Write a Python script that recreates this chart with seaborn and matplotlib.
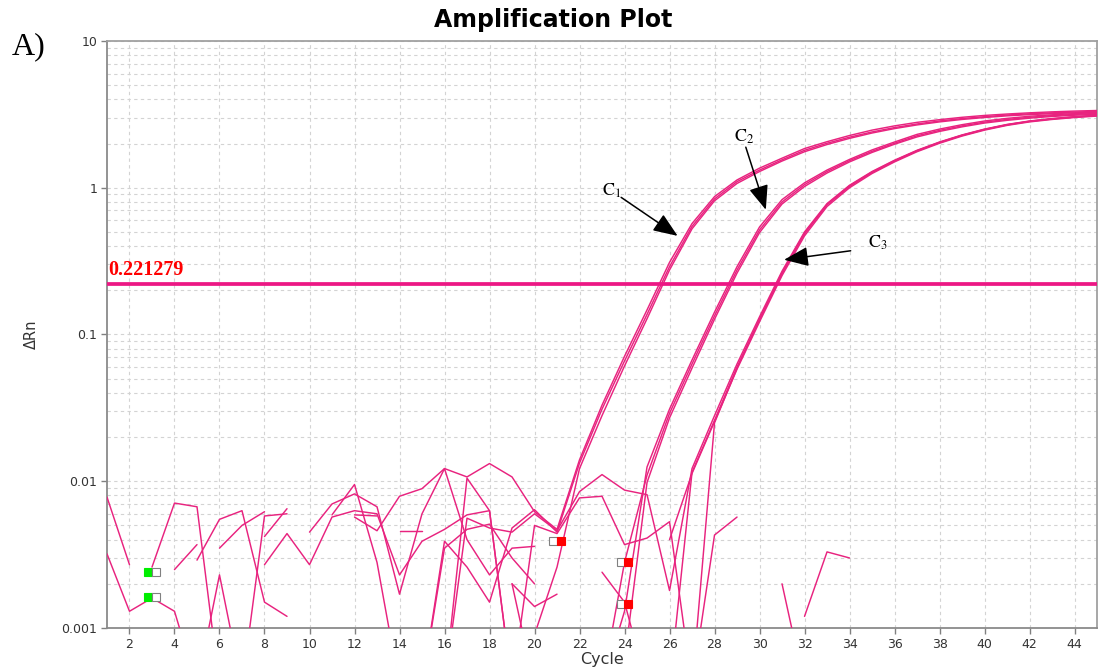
import numpy as np
import pandas as pd
import matplotlib
matplotlib.use("Agg")
import matplotlib.pyplot as plt
import seaborn as sns

N = np.nan
cycles = list(range(1, 46))

# ---- amplification curves (delta Rn per cycle, NaN = not drawn / nonpositive) ----
C1a = [0.0078, 0.0027, N, 0.0025, 0.0037, N, N, 0.0042, 0.0065, N,
       N, 0.0057, 0.0046, 0.0079, 0.0089, 0.0122, 0.0107, 0.0132, 0.0107, 0.0062,
       0.0047, 0.0140, 0.033, 0.071, 0.147, 0.31, 0.57, 0.87, 1.13, 1.36,
       1.59, 1.85, 2.06, 2.27, 2.47, 2.64, 2.79, 2.91, 3.02, 3.11,
       3.18, 3.24, 3.29, 3.33, 3.36]
C1b = [0.0032, 0.0013, 0.0016, 0.0013, 0.0004, 0.0023, 0.0004, N, N, N,
       0.0059, 0.0095, 0.0028, 0.0004, 0.0004, 0.0039, 0.0026, 0.0015, 0.0048, 0.0064,
       0.0045, 0.0133, 0.031, 0.066, 0.137, 0.29, 0.545, 0.84, 1.10, 1.32,
       1.55, 1.80, 2.01, 2.21, 2.40, 2.57, 2.72, 2.85, 2.96, 3.05,
       3.13, 3.19, 3.24, 3.28, 3.31]
C1c = [N, N, 0.0026, 0.0071, 0.0067, 0.0004, N, 0.0027, 0.0044, 0.0027,
       0.0057, 0.0063, 0.0060, 0.0023, 0.0039, 0.0047, 0.0059, 0.0063, 0.0004, 0.0009,
       0.0026, 0.0122, 0.028, 0.061, 0.128, 0.275, 0.525, 0.815, 1.07, 1.29,
       1.52, 1.76, 1.97, 2.17, 2.36, 2.53, 2.68, 2.81, 2.92, 3.01,
       3.09, 3.15, 3.20, 3.24, 3.27]
C2a = [N, N, N, N, 0.0029, 0.0055, 0.0063, 0.0015, 0.0012, N,
       N, 0.0059, 0.0058, N, 0.0004, 0.0035, 0.0047, 0.0051, 0.0030, 0.0020,
       N, N, 0.0004, 0.0013, 0.0125, 0.031, 0.067, 0.142, 0.29, 0.54,
       0.83, 1.08, 1.32, 1.56, 1.81, 2.05, 2.31, 2.51, 2.69, 2.85,
       2.97, 3.07, 3.14, 3.20, 3.25]
C2b = [N, N, N, N, N, 0.0035, 0.0050, 0.0062, N, 0.0045,
       0.0070, 0.0082, 0.0067, 0.0017, 0.0060, 0.0122, 0.0040, 0.0023, 0.0035, 0.0036,
       N, N, 0.0004, 0.0028, 0.0110, 0.029, 0.063, 0.134, 0.275, 0.515,
       0.80, 1.05, 1.29, 1.53, 1.77, 2.01, 2.26, 2.46, 2.64, 2.80,
       2.92, 3.02, 3.10, 3.16, 3.21]
C2c = [N, N, N, N, N, N, 0.0004, 0.0058, 0.0060, N,
       N, N, N, 0.0046, 0.0046, N, N, N, 0.0020, 0.0004,
       N, N, N, 0.0006, 0.0098, 0.027, 0.059, 0.127, 0.262, 0.495,
       0.775, 1.02, 1.26, 1.50, 1.74, 1.98, 2.22, 2.42, 2.60, 2.76,
       2.88, 2.98, 3.06, 3.12, 3.17]
C3a = [N, N, N, N, N, N, N, N, N, N,
       N, N, N, N, N, 0.0004, 0.0056, 0.0048, 0.0045, 0.0060,
       0.0046, 0.0085, 0.0111, 0.0087, 0.0081, 0.0018, 0.0122, 0.028, 0.063, 0.132,
       0.27, 0.50, 0.78, 1.04, 1.29, 1.54, 1.80, 2.05, 2.29, 2.51,
       2.70, 2.85, 2.96, 3.05, 3.12]
C3b = [N, N, N, N, N, N, N, N, N, N,
       N, N, N, N, N, 0.0004, 0.0105, 0.0063, 0.0004, 0.0050,
       0.0044, 0.0077, 0.0079, 0.0037, 0.0041, 0.0053, 0.0004, 0.025, 0.059, 0.126,
       0.26, 0.485, 0.765, 1.02, 1.27, 1.52, 1.78, 2.03, 2.27, 2.49,
       2.68, 2.83, 2.94, 3.03, 3.10]
C3c = [N, N, N, N, N, N, N, N, N, N,
       N, N, N, N, N, N, N, N, 0.0020, 0.0014,
       0.0017, N, N, N, N, 0.0004, 0.0115, 0.026, 0.060, 0.127,
       0.263, 0.49, 0.77, 1.03, 1.28, 1.53, 1.79, 2.04, 2.28, 2.50,
       2.69, 2.84, 2.95, 3.04, 3.11]
C3d = [N, N, N, N, N, N, N, N, N, N,
       N, N, N, N, N, N, N, N, N, N,
       N, N, N, N, N, 0.0040, 0.0113, 0.0255, 0.058, 0.122,
       0.252, 0.47, 0.745, 1.00, 1.25, 1.50, 1.76, 2.01, 2.25, 2.47,
       2.66, 2.81, 2.92, 3.01, 3.08]
NTC1 = [N, N, N, N, N, N, N, N, N, N,
        N, N, N, N, N, N, N, N, N, N,
        N, N, 0.0024, 0.0015, 0.0004, N, 0.0004, 0.0043, 0.0057, N,
        0.0020, 0.0004, N, N, N, N, N, N, N, N,
        N, N, N, N, N]
NTC2 = [N, N, N, N, N, N, N, N, N, N,
        N, N, N, N, N, N, N, N, N, N,
        N, N, N, N, N, N, N, N, N, N,
        N, 0.0012, 0.0033, 0.0030, N, N, N, N, N, N,
        N, N, N, N, N]

curves = {"C1a": C1a, "C1b": C1b, "C1c": C1c, "C2a": C2a, "C2b": C2b, "C2c": C2c,
          "C3a": C3a, "C3b": C3b, "C3c": C3c, "C3d": C3d, "NTC1": NTC1, "NTC2": NTC2}
for k, v in curves.items():
    assert len(v) == 45, (k, len(v))

threshold = 0.221279
threshold_label = "0.221279"
x_ticks = list(range(2, 45, 2))
y_ticks = [0.001, 0.01, 0.1, 1, 10]
y_tick_labels = ["0.001", "0.01", "0.1", "1", "10"]

# baseline / Ct markers
green_cycles = [3, 3]
green_vals = [0.0024, 0.00162]
red_cycles = [21, 24, 24]
red_vals = [0.0039, 0.0028, 0.00145]

# annotations: label, text position, arrow start, arrow tip (cycle, dRn)
ann_labels = [r"$\mathrm{C}_1$", r"$\mathrm{C}_2$", r"$\mathrm{C}_3$"]
ann_text = [(23.42, 0.95), (29.32, 2.23), (35.26, 0.42)]
ann_start = [(23.85, 0.86), (29.39, 1.89), (34.05, 0.372)]
ann_tip = [(26.36, 0.47), (30.28, 0.708), (31.09, 0.323)]

# ---- build long-form table of contiguous segments ----
rows = []
seg = 0
for name, vals in curves.items():
    run = False
    for c, v in zip(cycles, vals):
        if np.isnan(v):
            run = False
            continue
        if not run:
            seg += 1
            run = True
        rows.append((name, seg, c, v))
df = pd.DataFrame(rows, columns=["well", "seg", "cycle", "dRn"])

sns.set_theme(style="white")
plt.rcParams["font.family"] = ["DejaVu Sans"]
plt.rcParams["mathtext.fontset"] = "stix"

pink = "#e8237f"
fig = plt.figure(figsize=(11.03, 6.71), dpi=100)
ax = fig.add_axes([0.097, 0.0641, 0.8976, 0.8748])

sns.lineplot(data=df, x="cycle", y="dRn", units="seg", estimator=None,
             color=pink, lw=1.05, ax=ax, legend=False, sort=False, zorder=3)

ax.set_yscale("log")
ax.set_xlim(1, 45)
ax.set_ylim(0.001, 10)

ax.axhline(threshold, color="#ec1784", lw=2.7, zorder=4)
ax.text(1.05, threshold * 1.07, threshold_label, color="#ff0000", fontsize=14.5,
        fontweight="bold", family="Liberation Serif", va="bottom", ha="left", zorder=5)

# markers
dx = 0.17
for c, v in zip(green_cycles, green_vals):
    ax.plot([c - dx], [v], marker="s", ms=5.2, mfc="#00ee00", mec="#00ee00", mew=0.8, ls="none", zorder=6)
    ax.plot([c + dx], [v], marker="s", ms=5.2, mfc="white", mec="#808080", mew=0.8, ls="none", zorder=6)
for c, v in zip(red_cycles, red_vals):
    ax.plot([c - dx], [v], marker="s", ms=5.2, mfc="white", mec="#808080", mew=0.8, ls="none", zorder=6)
    ax.plot([c + dx], [v], marker="s", ms=5.2, mfc="#ff0000", mec="#ff0000", mew=0.8, ls="none", zorder=6)

# annotations
for lab, tp, sp, tip in zip(ann_labels, ann_text, ann_start, ann_tip):
    ax.text(tp[0], tp[1], lab, fontsize=13, ha="center", va="center", color="black", zorder=7)
    ax.annotate("", xy=tip, xytext=sp,
                arrowprops=dict(arrowstyle="-|>,head_length=0.75,head_width=0.3",
                                color="black", lw=1.1, mutation_scale=20,
                                shrinkA=0, shrinkB=0), zorder=7)

# grid
grid_kw = dict(color="#d3d3d3", lw=0.8, ls=(0, (3, 3)))
ax.set_xticks(x_ticks)
ax.set_xticklabels([str(t) for t in x_ticks])
ax.set_yticks(y_ticks)
ax.set_yticklabels(y_tick_labels)
ax.yaxis.set_minor_locator(matplotlib.ticker.LogLocator(base=10, subs=np.arange(2, 10)))
ax.yaxis.set_minor_formatter(matplotlib.ticker.NullFormatter())
ax.grid(True, which="major", axis="x", **grid_kw)
ax.grid(True, which="both", axis="y", **grid_kw)
ax.set_axisbelow(True)

ax.tick_params(axis="both", which="major", direction="out", length=4, width=1,
               color="#808080", labelsize=9, labelcolor="#333333", pad=3,
               bottom=True, left=True)
ax.tick_params(axis="y", which="minor", length=0)

for s in ax.spines.values():
    s.set_color("#a0a0a0")
    s.set_linewidth(1.3)
ax.spines["left"].set_color("#8a8a8a")
ax.spines["bottom"].set_color("#8a8a8a")

ax.set_xlabel("")
ax.set_ylabel("ΔRn", fontsize=10.5, color="#333333", labelpad=16)
fig.text(0.546, 0.0165, "Cycle", fontsize=11.5, color="#333333", ha="center", va="center")

fig.text(0.5015, 0.970, "Amplification Plot", fontsize=17, fontweight="bold",
         ha="center", va="center", color="black")
fig.text(0.011, 0.930, "A)", fontsize=23, family="Liberation Serif",
         ha="left", va="center", color="black")

fig.savefig("out.png", dpi=100)
